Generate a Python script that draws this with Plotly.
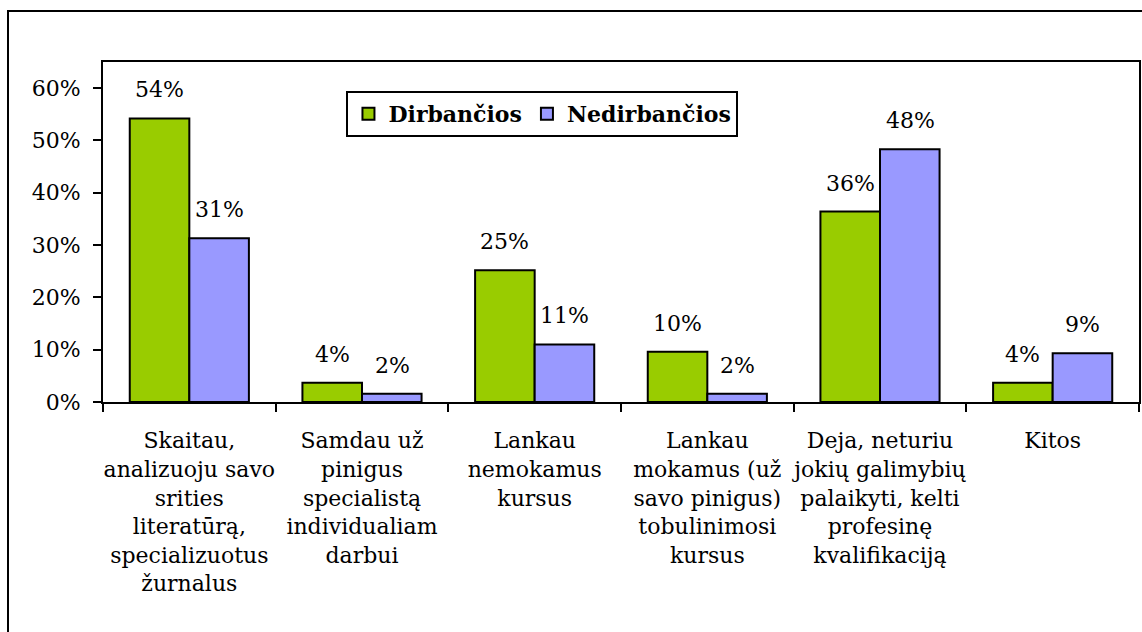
import plotly.graph_objects as go

categories = [
    "Skaitau,<br>analizuoju savo<br>srities<br>literatūrą,<br>specializuotus<br>žurnalus",
    "Samdau už<br>pinigus<br>specialistą<br>individualiam<br>darbui",
    "Lankau<br>nemokamus<br>kursus",
    "Lankau<br>mokamus (už<br>savo pinigus)<br>tobulinimosi<br>kursus",
    "Deja, neturiu<br>jokių galimybių<br>palaikyti, kelti<br>profesinę<br>kvalifikaciją",
    "Kitos",
]
dirbancios = [54.2, 3.7, 25.2, 9.6, 36.4, 3.7]
nedirbancios = [31.3, 1.6, 11.0, 1.6, 48.3, 9.3]
y_ticks = [0, 10, 20, 30, 40, 50, 60]
y_labels = [f"{v}%" for v in y_ticks]

FONT = "DejaVu Serif"
TXT = dict(family=FONT, size=22, color="black")

fig = go.Figure()
fig.add_trace(go.Bar(
    name="Dirbančios", x=categories, y=dirbancios,
    marker=dict(color="#99CC00", line=dict(color="black", width=2)),
    hoverinfo="skip",
))
fig.add_trace(go.Bar(
    name="Nedirbančios", x=categories, y=nedirbancios,
    marker=dict(color="#9999FF", line=dict(color="black", width=2)),
    hoverinfo="skip",
))

# value labels above each bar
for series, shift in ((dirbancios, -30), (nedirbancios, 30)):
    for cat, val in zip(categories, series):
        fig.add_annotation(
            x=cat, y=val, text=f"{val:.0f}%", showarrow=False,
            xanchor="center", yanchor="bottom", xshift=shift, yshift=14,
            font=TXT,
        )

fig.update_layout(
    width=1142, height=632,
    margin=dict(l=103, r=3, t=62, b=230, autoexpand=False),
    paper_bgcolor="white", plot_bgcolor="white",
    barmode="group", bargap=0.31, bargroupgap=0,
    font=TXT,
    showlegend=True,
    legend=dict(
        orientation="h", x=0.235, y=0.915, xanchor="left", yanchor="top",
        bgcolor="white", bordercolor="black", borderwidth=2,
        font=dict(family=FONT, size=22, color="black", weight="bold"),
        itemwidth=30, tracegroupgap=0,
    ),
)
fig.update_xaxes(
    showline=True, linecolor="black", linewidth=2, mirror=True,
    ticks="outside", ticklen=8, tickwidth=2, tickcolor="black",
    tickson="boundaries", showgrid=False, tickangle=0, automargin=False,
    ticklabelstandoff=18, tickfont=TXT,
)
fig.update_yaxes(
    range=[0, 65], tickmode="array", tickvals=y_ticks, ticktext=y_labels,
    showline=True, linecolor="black", linewidth=2, mirror=True,
    ticks="outside", ticklen=8, tickwidth=2, tickcolor="black",
    showgrid=False, zeroline=False, automargin=False,
    ticklabelstandoff=8, tickfont=TXT,
)

# outer chart-area frame (runs off the right and bottom edge)
fig.add_shape(
    type="rect", xref="paper", yref="paper",
    x0=(8 - 103) / 1036, x1=(1146 - 103) / 1036,
    y0=(402 - 640) / 340, y1=(402 - 11) / 340,
    line=dict(color="black", width=2), fillcolor="rgba(0,0,0,0)", layer="below",
)

fig.write_html(
    "out.html",
    config={"displayModeBar": False},
    post_script="document.body.style.margin='0';",
)
